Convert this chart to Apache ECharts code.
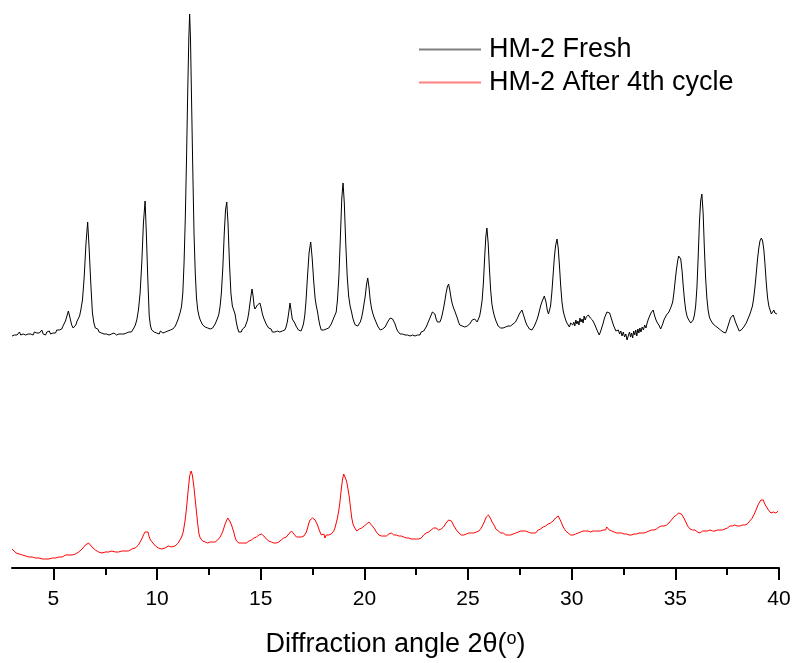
<!DOCTYPE html>
<html>
<head>
<meta charset="utf-8">
<script src="https://cdn.jsdelivr.net/npm/echarts@6/dist/echarts.min.js"></script>
<style>html,body{margin:0;padding:0;background:#fff}#c{width:796px;height:663px}</style>
</head>
<body>
<div id="c"></div>
<script>
// ---- data: [2θ (degrees), intensity (a.u., traces offset)] ----
const freshPattern = [[3.00,232],[3.06,234],[3.12,233],[3.18,235],[3.24,233],[3.3,234],[3.36,236],[3.42,233],[3.48,235],[3.54,234],[3.6,236],[3.66,233],[3.72,235],[3.78,234],[3.84,236],[3.9,234],[3.96,235],[4.02,233],[4.08,236],[4.14,234],[4.2,235],[4.26,233],[4.32,235],[4.38,236],[4.44,238],[4.5,234],[4.56,236],[4.62,233],[4.68,236],[4.74,235],[4.8,237],[4.86,234],[4.92,236],[4.98,235],[5.04,237],[5.1,235],[5.16,238],[5.22,236],[5.28,238],[5.34,240],[5.4,239],[5.46,242],[5.52,244],[5.58,247],[5.65,252],[5.72,257],[5.8,250],[5.88,243],[5.95,240],[6.01,238],[6.08,243],[6.14,247],[6.2,249],[6.26,252],[6.32,258],[6.4,268],[6.48,290],[6.57,325],[6.65,346],[6.72,320],[6.8,285],[6.88,255],[6.95,245],[7.02,240],[7.08,238],[7.14,239],[7.2,236],[7.26,237],[7.32,235],[7.38,236],[7.44,234],[7.5,236],[7.56,234],[7.62,235],[7.68,233],[7.74,235],[7.8,234],[7.86,233],[7.92,235],[7.98,234],[8.04,233],[8.1,235],[8.16,234],[8.22,233],[8.28,234],[8.34,232],[8.4,234],[8.46,233],[8.52,235],[8.58,234],[8.64,236],[8.7,235],[8.76,236],[8.82,238],[8.88,240],[8.95,243],[9.02,248],[9.1,258],[9.18,275],[9.26,305],[9.34,345],[9.42,367],[9.48,335],[9.55,290],[9.62,252],[9.68,242],[9.74,238],[9.8,240],[9.86,236],[9.92,237],[9.98,235],[10.04,236],[10.1,234],[10.16,237],[10.22,236],[10.28,235],[10.34,237],[10.4,236],[10.46,238],[10.52,237],[10.58,239],[10.64,238],[10.7,240],[10.76,239],[10.82,241],[10.88,242],[10.94,245],[11.0,248],[11.06,252],[11.12,256],[11.18,262],[11.24,275],[11.3,305],[11.36,350],[11.42,410],[11.48,480],[11.53,530],[11.57,554],[11.61,530],[11.66,470],[11.72,400],[11.78,335],[11.84,295],[11.9,270],[11.96,258],[12.02,252],[12.08,248],[12.14,246],[12.2,243],[12.26,244],[12.32,241],[12.38,242],[12.44,240],[12.5,241],[12.56,239],[12.62,241],[12.68,240],[12.74,242],[12.8,244],[12.86,247],[12.92,250],[12.98,254],[13.04,262],[13.1,275],[13.17,300],[13.24,335],[13.3,358],[13.36,366],[13.42,345],[13.49,305],[13.56,275],[13.63,262],[13.7,260],[13.76,254],[13.82,246],[13.88,240],[13.94,236],[14.0,238],[14.06,236],[14.12,239],[14.18,237],[14.24,241],[14.3,243],[14.36,248],[14.42,255],[14.48,265],[14.54,274],[14.58,279],[14.63,272],[14.68,262],[14.72,259],[14.78,261],[14.84,263],[14.9,264],[14.96,265],[15.02,260],[15.08,254],[15.14,250],[15.2,247],[15.26,244],[15.32,242],[15.38,240],[15.44,238],[15.5,239],[15.56,236],[15.62,238],[15.68,236],[15.74,235],[15.8,237],[15.86,235],[15.92,236],[15.98,234],[16.04,237],[16.1,236],[16.16,238],[16.22,241],[16.28,246],[16.34,254],[16.41,265],[16.46,258],[16.52,249],[16.58,247],[16.64,245],[16.7,242],[16.76,240],[16.82,238],[16.88,239],[16.94,237],[17.0,240],[17.06,244],[17.12,252],[17.18,266],[17.25,290],[17.33,315],[17.41,326],[17.48,310],[17.55,288],[17.62,270],[17.68,262],[17.74,256],[17.8,248],[17.86,242],[17.92,238],[17.98,236],[18.04,238],[18.1,236],[18.16,239],[18.22,238],[18.28,240],[18.34,242],[18.4,244],[18.46,246],[18.52,250],[18.58,253],[18.64,256],[18.7,268],[18.77,292],[18.84,330],[18.91,370],[18.97,385],[19.03,365],[19.1,325],[19.17,292],[19.24,272],[19.31,262],[19.38,256],[19.44,250],[19.5,246],[19.56,243],[19.62,241],[19.68,242],[19.74,244],[19.8,246],[19.86,250],[19.92,256],[19.98,264],[20.04,272],[20.1,283],[20.16,290],[20.22,281],[20.28,268],[20.34,260],[20.4,255],[20.46,251],[20.52,248],[20.58,245],[20.64,242],[20.7,240],[20.76,238],[20.82,237],[20.88,239],[20.94,238],[21.0,241],[21.06,243],[21.12,246],[21.18,248],[21.24,250],[21.3,251],[21.36,249],[21.42,247],[21.48,244],[21.54,240],[21.6,237],[21.66,236],[21.72,234],[21.78,236],[21.84,234],[21.9,235],[21.96,233],[22.02,235],[22.08,233],[22.14,234],[22.2,232],[22.26,234],[22.32,233],[22.38,235],[22.44,232],[22.5,234],[22.56,233],[22.62,235],[22.68,233],[22.74,236],[22.8,235],[22.86,237],[22.92,239],[22.98,241],[23.04,244],[23.1,247],[23.16,250],[23.22,253],[23.28,256],[23.34,258],[23.4,254],[23.46,249],[23.52,246],[23.58,244],[23.64,246],[23.7,249],[23.76,254],[23.82,260],[23.88,267],[23.94,275],[24.0,281],[24.06,284],[24.12,278],[24.18,270],[24.24,264],[24.3,260],[24.36,257],[24.42,255],[24.48,250],[24.54,246],[24.6,243],[24.66,241],[24.72,242],[24.78,240],[24.84,241],[24.9,240],[24.96,242],[25.02,241],[25.08,244],[25.14,246],[25.2,248],[25.26,250],[25.32,249],[25.38,247],[25.44,246],[25.5,248],[25.56,252],[25.62,259],[25.68,268],[25.74,285],[25.8,310],[25.86,332],[25.91,340],[25.97,325],[26.03,300],[26.09,278],[26.15,264],[26.21,257],[26.27,252],[26.33,248],[26.39,245],[26.45,242],[26.51,241],[26.57,240],[26.63,242],[26.69,240],[26.75,242],[26.81,241],[26.87,240],[26.93,242],[26.99,241],[27.05,242],[27.11,241],[27.17,244],[27.23,243],[27.29,246],[27.35,248],[27.41,251],[27.47,254],[27.53,256],[27.6,258],[27.66,254],[27.72,250],[27.78,246],[27.84,243],[27.9,241],[27.96,239],[28.02,240],[28.08,238],[28.14,240],[28.2,242],[28.26,245],[28.32,248],[28.38,252],[28.44,257],[28.5,262],[28.56,266],[28.62,268],[28.68,272],[28.71,273],[28.76,266],[28.82,258],[28.88,254],[28.92,253],[28.98,262],[29.04,275],[29.1,292],[29.16,310],[29.22,322],[29.29,329],[29.35,320],[29.41,302],[29.47,282],[29.53,266],[29.59,257],[29.65,252],[29.71,248],[29.77,245],[29.83,243],[29.89,241],[29.95,245],[30.0,247],[30.05,243],[30.1,246],[30.15,242],[30.2,248],[30.25,244],[30.3,247],[30.35,243],[30.4,250],[30.45,246],[30.5,249],[30.55,245],[30.6,252],[30.65,248],[30.7,251],[30.75,249],[30.8,253],[30.84,255],[30.9,250],[30.95,252],[31.0,248],[31.05,249],[31.1,244],[31.15,242],[31.2,239],[31.26,236],[31.33,233],[31.4,237],[31.46,241],[31.52,245],[31.58,250],[31.64,253],[31.7,256],[31.77,258],[31.83,255],[31.89,251],[31.95,247],[32.01,243],[32.07,240],[32.13,237],[32.19,235],[32.25,238],[32.31,234],[32.37,237],[32.43,232],[32.49,236],[32.55,231],[32.61,234],[32.67,228],[32.7,226],[32.74,233],[32.79,236],[32.84,231],[32.89,235],[32.94,230],[32.99,237],[33.04,233],[33.09,238],[33.14,232],[33.19,239],[33.24,235],[33.29,240],[33.34,236],[33.4,241],[33.46,238],[33.52,243],[33.58,240],[33.64,245],[33.7,249],[33.76,252],[33.82,255],[33.88,257],[33.93,258],[33.99,253],[34.05,249],[34.11,246],[34.17,247],[34.23,242],[34.29,239],[34.33,238],[34.39,244],[34.45,248],[34.51,250],[34.57,253],[34.63,255],[34.69,256],[34.75,259],[34.81,262],[34.87,266],[34.93,275],[34.99,287],[35.05,298],[35.11,307],[35.16,312],[35.2,314],[35.26,309],[35.32,298],[35.38,282],[35.44,268],[35.5,258],[35.56,252],[35.62,249],[35.68,247],[35.74,245],[35.8,245],[35.86,248],[35.92,253],[35.98,262],[36.04,280],[36.1,310],[36.16,345],[36.22,367],[36.28,374],[36.34,355],[36.4,320],[36.46,290],[36.52,270],[36.58,258],[36.64,251],[36.7,248],[36.76,246],[36.82,244],[36.88,245],[36.94,242],[37.0,243],[37.06,240],[37.12,241],[37.18,238],[37.24,239],[37.3,236],[37.36,237],[37.42,235],[37.48,238],[37.54,242],[37.6,246],[37.66,250],[37.72,252],[37.79,253],[37.84,250],[37.9,246],[37.96,243],[38.02,240],[38.08,237],[38.12,236],[38.18,238],[38.24,239],[38.3,241],[38.36,243],[38.42,245],[38.48,248],[38.54,251],[38.6,254],[38.66,256],[38.72,262],[38.78,270],[38.84,281],[38.9,294],[38.96,308],[39.02,319],[39.08,327],[39.15,330],[39.21,327],[39.27,318],[39.33,302],[39.39,284],[39.45,270],[39.51,262],[39.57,258],[39.63,254],[39.69,253],[39.75,258],[39.8,255],[39.85,256],[39.9,254]];

const cycledPattern = [[3.00,19],[3.05,18],[3.1,17],[3.15,17],[3.2,15],[3.28,15],[3.35,14],[3.42,14],[3.5,13],[3.58,13],[3.66,12],[3.74,13],[3.82,11],[3.9,12],[3.98,11],[4.06,11],[4.14,10],[4.22,11],[4.3,10],[4.38,10],[4.46,9],[4.54,10],[4.62,9],[4.7,10],[4.78,9],[4.86,10],[4.94,10],[5.02,11],[5.1,10],[5.18,11],[5.26,11],[5.34,12],[5.42,11],[5.5,12],[5.58,13],[5.66,12],[5.74,13],[5.82,14],[5.9,13],[5.98,14],[6.06,14],[6.14,15],[6.22,16],[6.3,17],[6.38,19],[6.46,21],[6.54,23],[6.62,24],[6.70,25],[6.78,23],[6.86,21],[6.94,19],[7.02,18],[7.1,17],[7.18,16],[7.26,16],[7.34,15],[7.42,15],[7.5,16],[7.58,15],[7.66,16],[7.74,16],[7.82,17],[7.9,16],[7.98,16],[8.06,17],[8.14,16],[8.22,17],[8.3,17],[8.38,16],[8.46,17],[8.54,16],[8.62,17],[8.7,18],[8.78,19],[8.86,19],[8.94,20],[9.02,21],[9.1,23],[9.18,26],[9.26,29],[9.34,33],[9.42,36],[9.5,38],[9.56,36],[9.62,31],[9.68,28],[9.74,26],[9.8,25],[9.86,23],[9.92,22],[9.98,21],[10.06,20],[10.14,20],[10.22,19],[10.3,19],[10.38,20],[10.46,21],[10.54,22],[10.62,22],[10.7,21],[10.78,22],[10.86,22],[10.94,23],[11.02,25],[11.1,27],[11.18,31],[11.26,36],[11.34,46],[11.42,60],[11.5,78],[11.57,92],[11.64,97],[11.7,93],[11.77,82],[11.84,68],[11.9,56],[11.96,44],[12.02,34],[12.08,30],[12.14,28],[12.2,27],[12.26,28],[12.32,26],[12.38,27],[12.44,25],[12.5,24],[12.56,26],[12.62,25],[12.68,26],[12.74,25],[12.8,26],[12.86,27],[12.92,28],[12.98,29],[13.04,31],[13.1,33],[13.16,36],[13.22,40],[13.28,44],[13.34,47],[13.41,50],[13.47,48],[13.53,46],[13.59,43],[13.65,39],[13.71,35],[13.77,30],[13.83,27],[13.89,26],[13.95,25],[14.01,26],[14.07,25],[14.13,24],[14.19,25],[14.25,24],[14.31,25],[14.37,26],[14.43,27],[14.49,28],[14.55,28],[14.61,29],[14.67,30],[14.73,30],[14.79,31],[14.85,32],[14.91,33],[14.97,34],[15.03,34],[15.09,35],[15.15,32],[15.21,30],[15.27,29],[15.33,28],[15.39,27],[15.45,27],[15.51,26],[15.57,27],[15.63,25],[15.69,26],[15.75,25],[15.81,26],[15.87,26],[15.93,27],[15.99,28],[16.05,28],[16.11,30],[16.17,31],[16.23,31],[16.29,33],[16.35,34],[16.41,36],[16.48,37],[16.54,35],[16.6,34],[16.66,32],[16.72,31],[16.78,30],[16.84,31],[16.9,30],[16.96,31],[17.02,31],[17.08,32],[17.14,33],[17.2,36],[17.26,40],[17.32,45],[17.38,48],[17.44,50],[17.5,50],[17.56,48],[17.62,48],[17.68,46],[17.74,43],[17.8,39],[17.86,36],[17.92,33],[17.98,31],[18.04,34],[18.1,30],[18.16,33],[18.22,32],[18.28,33],[18.34,34],[18.4,34],[18.46,35],[18.52,37],[18.58,40],[18.64,45],[18.7,50],[18.76,57],[18.82,66],[18.88,78],[18.94,88],[19.0,94],[19.03,95],[19.08,93],[19.14,87],[19.2,80],[19.27,71],[19.33,60],[19.39,50],[19.45,44],[19.51,41],[19.57,39],[19.63,37],[19.69,38],[19.75,39],[19.81,40],[19.87,40],[19.93,41],[19.99,42],[20.05,43],[20.11,44],[20.17,45],[20.22,46],[20.28,44],[20.34,43],[20.4,41],[20.46,40],[20.52,38],[20.58,36],[20.64,35],[20.7,33],[20.76,33],[20.82,32],[20.88,33],[20.94,32],[21.0,33],[21.06,32],[21.12,33],[21.18,34],[21.24,34],[21.3,35],[21.36,35],[21.42,33],[21.48,32],[21.54,33],[21.6,31],[21.66,32],[21.72,31],[21.78,32],[21.84,30],[21.9,31],[21.96,32],[22.02,30],[22.08,31],[22.14,30],[22.2,31],[22.26,29],[22.32,30],[22.38,29],[22.44,31],[22.5,29],[22.56,30],[22.62,29],[22.68,31],[22.74,30],[22.8,32],[22.86,33],[22.92,34],[22.98,35],[23.04,36],[23.1,36],[23.16,37],[23.22,38],[23.28,39],[23.34,40],[23.4,39],[23.46,40],[23.52,39],[23.58,38],[23.64,38],[23.7,39],[23.76,40],[23.82,41],[23.88,43],[23.94,45],[24.0,46],[24.06,48],[24.14,49],[24.2,47],[24.26,45],[24.32,42],[24.38,40],[24.44,38],[24.5,37],[24.56,35],[24.62,34],[24.68,33],[24.74,34],[24.8,33],[24.86,34],[24.92,34],[24.98,35],[25.04,35],[25.1,34],[25.16,35],[25.22,34],[25.28,35],[25.34,35],[25.4,36],[25.46,36],[25.52,37],[25.58,39],[25.64,40],[25.7,42],[25.76,45],[25.82,48],[25.88,51],[25.94,53],[25.98,53],[26.04,51],[26.1,49],[26.16,46],[26.22,44],[26.28,42],[26.34,39],[26.4,38],[26.46,37],[26.52,36],[26.58,35],[26.64,34],[26.7,35],[26.76,34],[26.82,33],[26.88,35],[26.94,33],[27.0,34],[27.06,33],[27.12,35],[27.18,34],[27.24,36],[27.3,35],[27.36,37],[27.42,36],[27.48,38],[27.54,37],[27.6,38],[27.66,37],[27.72,36],[27.78,37],[27.84,35],[27.9,36],[27.96,34],[28.02,35],[28.08,33],[28.14,35],[28.2,36],[28.26,35],[28.32,37],[28.38,38],[28.44,40],[28.5,39],[28.56,41],[28.62,41],[28.68,42],[28.74,42],[28.8,43],[28.86,44],[28.92,44],[28.98,45],[29.04,46],[29.1,47],[29.16,49],[29.22,50],[29.28,52],[29.35,52],[29.41,50],[29.47,47],[29.53,44],[29.59,41],[29.65,39],[29.71,37],[29.77,36],[29.83,35],[29.89,34],[29.95,33],[30.01,34],[30.07,33],[30.13,35],[30.19,34],[30.25,36],[30.31,35],[30.37,37],[30.43,36],[30.49,38],[30.55,37],[30.61,38],[30.67,37],[30.73,39],[30.79,37],[30.85,38],[30.91,36],[30.97,38],[31.03,37],[31.09,38],[31.15,37],[31.21,39],[31.27,37],[31.33,38],[31.39,37],[31.45,39],[31.51,38],[31.57,40],[31.63,38],[31.69,41],[31.75,39],[31.81,38],[31.87,39],[31.93,37],[31.99,38],[32.05,36],[32.11,37],[32.17,35],[32.23,36],[32.29,35],[32.35,34],[32.41,35],[32.47,33],[32.53,34],[32.59,32],[32.65,34],[32.71,32],[32.77,33],[32.83,31],[32.89,33],[32.95,32],[33.01,34],[33.07,32],[33.13,34],[33.19,33],[33.25,35],[33.31,34],[33.37,35],[33.43,36],[33.49,35],[33.55,37],[33.61,36],[33.67,38],[33.73,37],[33.79,38],[33.85,38],[33.91,39],[33.97,38],[34.03,40],[34.09,39],[34.15,40],[34.21,41],[34.27,40],[34.33,42],[34.39,41],[34.45,42],[34.51,42],[34.57,43],[34.63,44],[34.69,45],[34.75,46],[34.81,48],[34.87,49],[34.93,51],[34.99,52],[35.05,53],[35.11,54],[35.17,55],[35.23,55],[35.29,54],[35.35,52],[35.41,50],[35.47,48],[35.53,45],[35.59,42],[35.65,40],[35.71,39],[35.77,38],[35.83,38],[35.89,37],[35.95,38],[36.01,37],[36.07,36],[36.13,37],[36.19,35],[36.25,36],[36.31,37],[36.37,36],[36.43,37],[36.49,36],[36.55,37],[36.61,36],[36.67,38],[36.73,37],[36.79,37],[36.85,38],[36.91,37],[36.97,38],[37.03,38],[37.09,37],[37.15,38],[37.21,39],[37.27,38],[37.33,39],[37.39,39],[37.45,39],[37.51,40],[37.57,41],[37.63,42],[37.69,42],[37.75,42],[37.81,42],[37.87,43],[37.93,42],[37.99,42],[38.05,43],[38.11,42],[38.17,42],[38.23,43],[38.29,42],[38.35,43],[38.41,43],[38.47,44],[38.53,45],[38.59,47],[38.65,48],[38.71,50],[38.77,52],[38.83,55],[38.89,58],[38.95,61],[39.01,64],[39.07,66],[39.13,68],[39.17,70],[39.21,67],[39.25,68],[39.29,65],[39.33,63],[39.37,62],[39.41,60],[39.45,61],[39.49,58],[39.53,58],[39.57,57],[39.61,55],[39.65,56],[39.69,54],[39.73,56],[39.77,55],[39.81,57],[39.85,55],[39.89,56],[39.96,57]];

const seriesNames = ['HM-2 Fresh', 'HM-2 After 4th cycle'];
const seriesColors = ['#000000', '#ff0000'];
const legendColors = ['#808080', '#ff8080'];
const majorTicks = [5, 10, 15, 20, 25, 30, 35, 40];
const minorTicks = [7.5, 12.5, 17.5, 22.5, 27.5, 32.5, 37.5];

const FONT = '"Liberation Sans", Arial, sans-serif';
const chart = echarts.init(document.getElementById('c'), null, {renderer: 'canvas'});
chart.setOption({
  animation: false,
  backgroundColor: '#ffffff',
  grid: {left: 12, right: 17, top: 10, bottom: 95, containLabel: false, outerBoundsMode: 'none'},
  legend: {
    orient: 'vertical',
    left: 419,
    top: 36,
    padding: 0,
    icon: 'rect',
    itemWidth: 62,
    itemHeight: 2,
    itemGap: 6,
    textStyle: {fontFamily: FONT, fontSize: 27, lineHeight: 27, color: '#000', padding: [0, 0, 0, 3]},
    data: seriesNames.map((n, i) => ({name: n, icon: 'rect', itemStyle: {color: legendColors[i]}}))
  },
  xAxis: [{
    type: 'value',
    min: 3, max: 40,
    position: 'bottom',
    splitLine: {show: false},
    axisLine: {show: true, lineStyle: {color: '#000', width: 2}},
    axisTick: {show: true, length: 12, lineStyle: {color: '#000', width: 2}, customValues: majorTicks},
    axisLabel: {show: true, margin: 21, fontFamily: FONT, fontSize: 21, color: '#000', customValues: majorTicks},
    name: '{a|Diffraction angle 2θ(}{s|o}{a|)}',
    nameLocation: 'middle',
    nameGap: 62,
    nameTextStyle: {
      rich: {
        a: {fontFamily: FONT, fontSize: 27, color: '#000', lineHeight: 30},
        s: {fontFamily: FONT, fontSize: 18, color: '#000', lineHeight: 30, verticalAlign: 'top', padding: [0, 0, 12, 0]}
      }
    }
  }, {
    type: 'value',
    min: 3, max: 40,
    position: 'bottom',
    splitLine: {show: false},
    axisLine: {show: false},
    axisTick: {show: true, length: 7, lineStyle: {color: '#000', width: 2}, customValues: minorTicks},
    axisLabel: {show: false}
  }],
  yAxis: {
    type: 'value', min: 0, max: 558, show: false,
    splitLine: {show: false}
  },
  series: [{
    name: seriesNames[0],
    type: 'line',
    xAxisIndex: 0,
    data: freshPattern,
    symbol: 'none',
    showSymbol: false,
    lineStyle: {color: seriesColors[0], width: 1},
    itemStyle: {color: seriesColors[0]}
  }, {
    name: seriesNames[1],
    type: 'line',
    xAxisIndex: 0,
    data: cycledPattern,
    symbol: 'none',
    showSymbol: false,
    lineStyle: {color: seriesColors[1], width: 1},
    itemStyle: {color: seriesColors[1]}
  }]
});
</script>
</body>
</html>
